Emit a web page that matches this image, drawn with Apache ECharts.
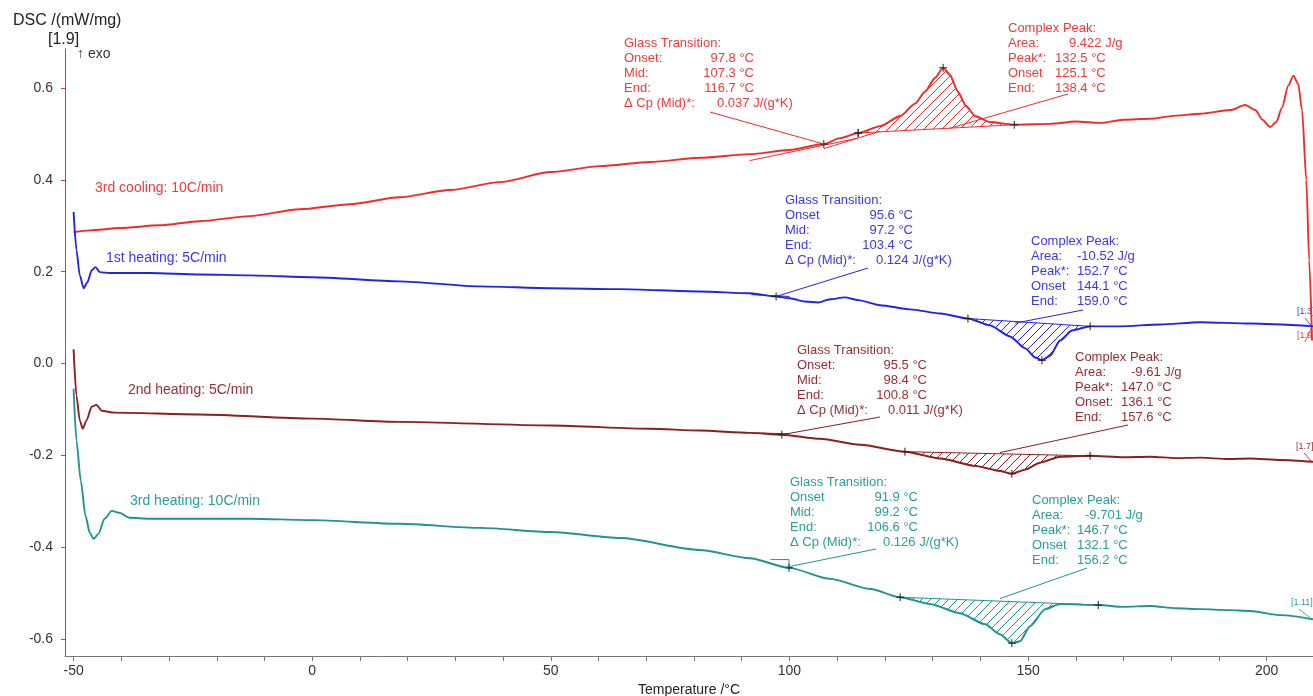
<!DOCTYPE html>
<html><head><meta charset="utf-8">
<script src="https://cdn.jsdelivr.net/npm/echarts@6/dist/echarts.min.js"></script>
<style>html,body{margin:0;padding:0;background:#fff}#c{width:1313px;height:696px}</style>
</head><body><div id="c"></div>
<script>
// ---------- DATA ----------
const xTickValues = [-50,-40,-30,-20,-10,0,10,20,30,40,50,60,70,80,90,100,110,120,130,140,150,160,170,180,190,200];
const xLabelValues = [-50,0,50,100,150,200];
const yLabelValues = [-0.6,-0.4,-0.2,0,0.2,0.4,0.6];

const seriesNames = ['3rd cooling: 10C/min','1st heating: 5C/min','2nd heating: 5C/min','3rd heating: 10C/min'];

const coolT = [-50,-46.6,-40.4,-32,-23.6,-13.1,-2.6,7.9,18.3,28.8,39.3,50,60.3,70.8,81.3,91.7,99.9,107.2,110.6,114.4,119,123.2,126.3,128.4,130.5,132.2,133.6,135.3,137,138.9,142,147.1,154.6,160,165.1,170,175.6,181,186.1,192.4,195.5,197.6,199.1,200.7,202,203.2,204.5,205.6,206.6,207.4,208.3,208.9,209.5];
const coolV = [0.286,0.290,0.295,0.301,0.310,0.321,0.336,0.347,0.362,0.378,0.395,0.417,0.430,0.439,0.448,0.456,0.465,0.478,0.491,0.502,0.517,0.539,0.566,0.592,0.622,0.644,0.629,0.592,0.561,0.539,0.526,0.520,0.522,0.527,0.524,0.531,0.533,0.540,0.544,0.552,0.563,0.552,0.531,0.515,0.526,0.557,0.605,0.627,0.609,0.552,0.400,0.225,0.050];

const heat1T = [-50,-49.4,-48.7,-47.9,-47.1,-46.2,-45.4,-44.5,-42.5,-34.1,-23.6,-13.1,0,18.3,35.1,50,64.5,81.2,91.7,97.2,100.1,103.2,106,108.5,111.6,114.4,119,125.3,131.6,137.4,142,146.2,149.4,151.5,152.9,154.6,156.7,159.2,163,169.3,177.7,186.1,196.5,209.7];
const heat1V = [0.330,0.247,0.192,0.164,0.177,0.203,0.210,0.199,0.197,0.197,0.194,0.192,0.188,0.179,0.168,0.164,0.162,0.157,0.153,0.146,0.142,0.135,0.133,0.140,0.144,0.138,0.127,0.118,0.109,0.098,0.083,0.059,0.033,0.013,0.007,0.017,0.050,0.072,0.081,0.081,0.085,0.090,0.087,0.081];

const heat2T = [-50,-49.4,-48.7,-48.1,-47.3,-46.2,-45.2,-44.1,-41.4,-23.6,0,18.3,50,70.8,81.2,91.7,98.4,106.4,114.8,124.2,131.6,138.9,144.1,146.6,149.4,152.5,156.7,163,170,175.6,181,186.1,192,196.5,203,209.7];
const heat2V = [0.031,-0.070,-0.124,-0.142,-0.124,-0.094,-0.090,-0.103,-0.107,-0.111,-0.120,-0.127,-0.135,-0.142,-0.146,-0.151,-0.155,-0.164,-0.177,-0.192,-0.207,-0.223,-0.234,-0.240,-0.231,-0.216,-0.203,-0.201,-0.204,-0.203,-0.206,-0.205,-0.208,-0.207,-0.210,-0.214];

const heat3T = [-50,-49.4,-48.5,-47.5,-46.6,-45.8,-44.8,-43.5,-42,-40.4,-38.3,-34.1,-23.6,-13.1,0,18.3,35.1,50,64.5,81.2,91.7,99.9,108.5,116.9,123.2,129.5,135.7,141,144.1,146.6,148.3,150.4,153.6,156.7,164.7,170,175.6,181,186.1,192,196.5,203,209.7];
const heat3V = [-0.055,-0.168,-0.255,-0.332,-0.369,-0.382,-0.371,-0.338,-0.321,-0.325,-0.336,-0.338,-0.338,-0.338,-0.341,-0.349,-0.358,-0.367,-0.380,-0.406,-0.424,-0.445,-0.469,-0.491,-0.509,-0.524,-0.544,-0.568,-0.590,-0.609,-0.605,-0.572,-0.535,-0.524,-0.526,-0.530,-0.528,-0.533,-0.535,-0.537,-0.539,-0.548,-0.557];

// Peak evaluation: [start T, end T], baseline values at start / end, peak temperature
const peakRange = [[114.4,147.1],[137.4,163.0],[124.2,163.0],[123.2,164.7]];
const peakBase  = [[0.502,0.520],[0.098,0.081],[-0.192,-0.201],[-0.509,-0.526]];
const peakTemp  = [132.2,152.9,146.6,146.6];
// Glass transition marker temperatures
const gtMarkT = [[107.2,114.4],[97.2],[98.4],[99.9]];
// Glass transition tangent segments [[t0,v0],[t1,v1]]
const gtTangents = [
  [[[91.7,0.442],[114.4,0.491]],[[107.2,0.468],[119.0,0.506]]],
  [[[92.0,0.150],[100.0,0.146]]],
  [[[92.0,-0.151],[100.0,-0.153]]],
  [[[96.0,-0.427],[99.9,-0.427]],[[99.9,-0.427],[99.9,-0.445]]]
];

// Annotation texts
const gtTitle = 'Glass Transition:';
const cpTitle = 'Complex Peak:';
const gtRowLabels = [
  ['Onset:','Mid:','End:','Δ Cp (Mid)*:'],
  ['Onset','Mid:','End:','Δ Cp (Mid)*:'],
  ['Onset:','Mid:','End:','Δ Cp (Mid)*:'],
  ['Onset','Mid:','End:','Δ Cp (Mid)*:']
];
const gtValues = [
  ['97.8 °C','107.3 °C','116.7 °C','0.037 J/(g*K)'],
  ['95.6 °C','97.2 °C','103.4 °C','0.124 J/(g*K)'],
  ['95.5 °C','98.4 °C','100.8 °C','0.011 J/(g*K)'],
  ['91.9 °C','99.2 °C','106.6 °C','0.126 J/(g*K)']
];
const cpRowLabels = [
  ['Area:','Peak*:','Onset','End:'],
  ['Area:','Peak*:','Onset','End:'],
  ['Area:','Peak*:','Onset:','End:'],
  ['Area:','Peak*:','Onset','End:']
];
const cpValues = [
  ['9.422 J/g','132.5 °C','125.1 °C','138.4 °C'],
  ['-10.52 J/g','152.7 °C','144.1 °C','159.0 °C'],
  ['-9.61 J/g','147.0 °C','136.1 °C','157.6 °C'],
  ['-9.701 J/g','146.7 °C','132.1 °C','156.2 °C']
];
const endTags = ['[1.9]','[1.3]','[1.7]','[1.11]'];
const gtLeaderTarget = [[107.2,0.478],[97.2,0.146],[98.4,-0.155],[99.1,-0.444]];
const cpLeaderTarget = [[133.5,0.512],[147.3,0.088],[144.1,-0.194],[144.1,-0.512]];

// ---------- LAYOUT / STYLE ----------
const FONT = '"Liberation Sans", Arial, Helvetica, sans-serif';
const colors = ['#f42a2a','#2424e0','#8e1d1d','#1f9494'];
const textColors = ['#f03a3a','#3a3ae0','#953030','#2a9c9c'];
const gtLayout = [
  {x:624,y:43,vr:754,dl:717,lx:710,ly:112},
  {x:785,y:200,vr:913,dl:876,lx:868,ly:268},
  {x:797,y:350,vr:927,dl:888,lx:880,ly:417},
  {x:790,y:482,vr:918,dl:883,lx:876,ly:549}
];
const cpLayout = [
  {x:1008,y:28,al:1069,vl:1055,lx:1068,ly:94},
  {x:1031,y:241,al:1077,vl:1077,lx:1083,ly:310},
  {x:1075,y:357,al:1131,vl:1121,lx:1128,ly:425},
  {x:1032,y:500,al:1085,vl:1077,lx:1087,ly:568}
];
const nameLayout = [{x:95,y:188},{x:106,y:258},{x:128,y:390},{x:130,y:501}];
const tagLayout = [{x:1297,y:336},{x:1297,y:312},{x:1296,y:447},{x:1291,y:603}];

const curvesT = [coolT,heat1T,heat2T,heat3T];
const curvesV = [coolV,heat1V,heat2V,heat3V];

function interp(ts, vs, t){
  for(let i=0;i<ts.length-1;i++){
    if(t>=ts[i] && t<=ts[i+1]){ const f=(t-ts[i])/(ts[i+1]-ts[i]); return vs[i]+f*(vs[i+1]-vs[i]); }
  }
  return vs[vs.length-1];
}
function hatch(color){
  const s=9, c=document.createElement('canvas'); c.width=s; c.height=s;
  const g=c.getContext('2d'); g.strokeStyle=color; g.lineWidth=1;
  g.beginPath(); g.moveTo(0,s); g.lineTo(s,0); g.moveTo(-1,1); g.lineTo(1,-1); g.moveTo(s-1,s+1); g.lineTo(s+1,s-1); g.stroke();
  return c;
}
const hatchImgs = colors.map(hatch);

function txt(x,y,text,color,size,align){
  return {type:'text', x:x, y:y, silent:true, style:{text:text, fill:color, font: size+'px '+FONT, textAlign:align||'left', align:align||'left', textVerticalAlign:'middle', verticalAlign:'middle'}};
}

const graphics = [];
graphics.push(txt(13,21,'DSC /(mW/mg)','#222',16));
graphics.push(txt(48,40,'[1.9]','#222',16));
graphics.push(txt(77,54,'↑ exo','#333',14));
for(let i=0;i<4;i++){
  graphics.push(txt(nameLayout[i].x,nameLayout[i].y,seriesNames[i],textColors[i],14));
  graphics.push(txt(tagLayout[i].x,tagLayout[i].y,endTags[i],textColors[i],9));
  const g=gtLayout[i];
  graphics.push(txt(g.x,g.y,gtTitle,textColors[i],13));
  for(let r=0;r<4;r++){
    graphics.push(txt(g.x,g.y+15*(r+1),gtRowLabels[i][r],textColors[i],13));
    if(r<3) graphics.push(txt(g.vr,g.y+15*(r+1),gtValues[i][r],textColors[i],13,'right'));
    else graphics.push(txt(g.dl,g.y+15*(r+1),gtValues[i][r],textColors[i],13));
  }
  const c=cpLayout[i];
  graphics.push(txt(c.x,c.y,cpTitle,textColors[i],13));
  for(let r=0;r<4;r++){
    graphics.push(txt(c.x,c.y+15*(r+1),cpRowLabels[i][r],textColors[i],13));
    graphics.push(txt(r===0?c.al:c.vl,c.y+15*(r+1),cpValues[i][r],textColors[i],13));
  }
}

function cross(p){
  return [
    {type:'line',shape:{x1:p[0]-4,y1:p[1],x2:p[0]+4,y2:p[1]},style:{stroke:'#222',lineWidth:1}},
    {type:'line',shape:{x1:p[0],y1:p[1]-4,x2:p[0],y2:p[1]+4},style:{stroke:'#222',lineWidth:1}}
  ];
}

function renderDecor(params, api){
  const i = api.value(2);
  const ts=curvesT[i], vs=curvesV[i];
  const [t0,t1]=peakRange[i], [b0,b1]=peakBase[i];
  const pts=[api.coord([t0,interp(ts,vs,t0)])];
  for(let k=0;k<ts.length;k++) if(ts[k]>t0 && ts[k]<t1) pts.push(api.coord([ts[k],vs[k]]));
  pts.push(api.coord([t1,interp(ts,vs,t1)]));
  pts.push(api.coord([t1,b1]));
  pts.push(api.coord([t0,b0]));
  const children=[];
  children.push({type:'polygon',shape:{points:pts,smooth:0.2},style:{fill:{image:hatchImgs[i],repeat:'repeat'},stroke:colors[i],lineWidth:1}});
  gtTangents[i].forEach(seg=>{
    const a=api.coord(seg[0]), b=api.coord(seg[1]);
    children.push({type:'line',shape:{x1:a[0],y1:a[1],x2:b[0],y2:b[1]},style:{stroke:colors[i],lineWidth:1}});
  });
  [t0,peakTemp[i],t1].forEach(t=>{ children.push(...cross(api.coord([t,interp(ts,vs,t)]))); });
  gtMarkT[i].forEach(t=>{ children.push(...cross(api.coord([t,interp(ts,vs,t)]))); });
  const g=gtLayout[i], c=cpLayout[i];
  const pg=api.coord(gtLeaderTarget[i]), pc=api.coord(cpLeaderTarget[i]);
  children.push({type:'line',shape:{x1:g.lx,y1:g.ly,x2:pg[0],y2:pg[1]},style:{stroke:colors[i],lineWidth:1}});
  children.push({type:'line',shape:{x1:c.lx,y1:c.ly,x2:pc[0],y2:pc[1]},style:{stroke:colors[i],lineWidth:1}});
  const tl=tagLayout[i];
  const pe=api.coord([209.4, interp(ts,vs,209.4)]);
  children.push({type:'line',shape:{x1:tl.x+8,y1:tl.y+6,x2:pe[0],y2:pe[1]},style:{stroke:colors[i],lineWidth:0.8}});
  return {type:'group',children:children};
}

const series = curvesT.map((ts,i)=>({
  type:'line', name:seriesNames[i], data: ts.map((t,k)=>[t,curvesV[i][k]]),
  showSymbol:false, smooth:0.25, smoothMonotone:'x',
  lineStyle:{color:colors[i],width:1.9}, itemStyle:{color:colors[i]}, z:3, silent:true
}));
series.push({
  type:'custom', renderItem:renderDecor, z:4, silent:true,
  encode:{x:0,y:1},
  data: peakTemp.map((t,i)=>[t, interp(curvesT[i],curvesV[i],t), i])
});

const chart = echarts.init(document.getElementById('c'));
chart.setOption({
  animation:false,
  backgroundColor:'#fff',
  grid:{left:65,top:49,right:0,bottom:40,containLabel:false,outerBoundsMode:'none'},
  xAxis:{
    type:'value', min:-51.8, max:209.7,
    name:'Temperature /°C', nameLocation:'middle', nameGap:26,
    nameTextStyle:{color:'#222',fontSize:14,fontFamily:FONT},
    axisLine:{show:true,onZero:false,lineStyle:{color:'#777',width:1}},
    axisTick:{show:true,length:5,lineStyle:{color:'#777'},customValues:xTickValues},
    axisLabel:{color:'#333',fontSize:14,fontFamily:FONT,margin:8,customValues:xLabelValues,showMinLabel:true,showMaxLabel:true},
    splitLine:{show:false}
  },
  yAxis:{
    type:'value', min:-0.637, max:0.685,
    axisLine:{show:true,onZero:false,lineStyle:{color:'#f03030',width:1}},
    axisTick:{show:true,length:4,lineStyle:{color:'#f03030'},customValues:yLabelValues},
    axisLabel:{color:'#333',fontSize:14,fontFamily:FONT,margin:12,customValues:yLabelValues,
      formatter:v=>Math.abs(v)<1e-9?'0.0':v.toFixed(1)},
    splitLine:{show:false}
  },
  graphic:graphics,
  series:series
});
</script></body></html>
